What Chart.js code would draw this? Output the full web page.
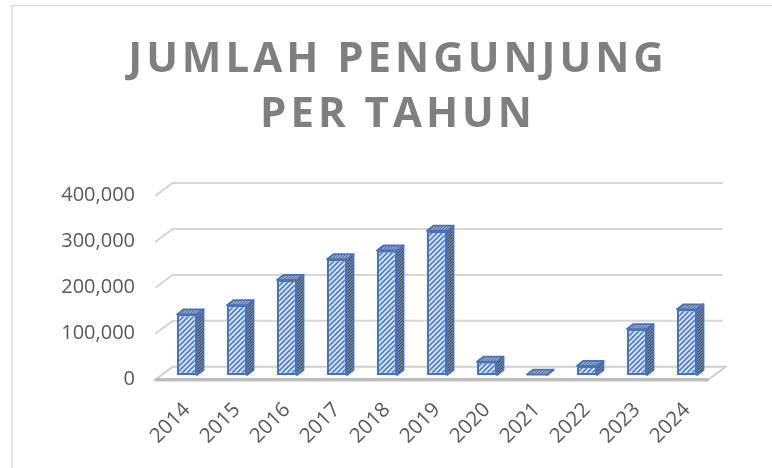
<!DOCTYPE html>
<html>
<head>
<meta charset="utf-8">
<script src="https://cdn.jsdelivr.net/npm/chart.js@4.4.1/dist/chart.umd.min.js"></script>
<style>
  html, body { margin: 0; padding: 0; background: #ffffff; }
  #wrap { width: 772px; height: 468px; position: relative; }
</style>
</head>
<body>
<div id="wrap"><canvas id="c" width="772" height="468"></canvas></div>
<script>
// ---- data ----
const years = ['2014', '2015', '2016', '2017', '2018', '2019', '2020', '2021', '2022', '2023', '2024'];
const visitors = [132000, 152000, 207000, 252000, 271000, 314000, 29000, 1000, 20000, 100000, 143000];
const yTickValues = [0, 100000, 200000, 300000, 400000];
const titleLines = ['JUMLAH PENGUNJUNG', 'PER TAHUN'];

// ---- styles ----
const FONT = "'Open Sans', 'Liberation Sans', sans-serif";
const BAR_BLUE = '#4472c4';
const GRID = '#d6d6d6';
// 3D offsets relative to the bar plane
const FRONT = { x: -6.7, y: 4.7 };
const BACK = { x: 10.6, y: -8.2 };
const BAR_DEPTH = { x: 6.5, y: -5 };
const TITLE_SHIFT = 42;

function makePattern(bg, fg, size, lw) {
  const c = document.createElement('canvas');
  c.width = size; c.height = size;
  const g = c.getContext('2d');
  g.fillStyle = bg; g.fillRect(0, 0, size, size);
  g.strokeStyle = fg; g.lineWidth = lw;
  g.beginPath();
  g.moveTo(-1, size + 1); g.lineTo(size + 1, -1);
  g.moveTo(-1, 1); g.lineTo(1, -1);
  g.moveTo(size - 1, size + 1); g.lineTo(size + 1, size - 1);
  g.stroke();
  return document.getElementById('c').getContext('2d').createPattern(c, 'repeat');
}
const frontPattern = makePattern('#dde7f7', '#4f7ccd', 5, 1.7);
const sidePattern = makePattern('#76808f', '#404a5c', 3, 1);
const topPattern = makePattern('#99a3b3', '#647086', 3, 1);

const frame = {
  id: 'frame',
  afterLayout(chart) {
    if (chart.titleBlock) {
      chart.titleBlock.left += TITLE_SHIFT;
      chart.titleBlock.right += TITLE_SHIFT;
    }
  },
  beforeDraw(chart) {
    const ctx = chart.ctx;
    ctx.save();
    ctx.strokeStyle = '#d9d9d9';
    ctx.lineWidth = 1.5;
    ctx.beginPath();
    ctx.moveTo(12, 468); ctx.lineTo(12, 5.5); ctx.lineTo(772, 5.5);
    ctx.stroke();
    ctx.restore();
    ctx.letterSpacing = '4px';
  },
  beforeDatasetsDraw(chart) {
    const ctx = chart.ctx;
    ctx.letterSpacing = '0px';
    const ys = chart.scales.y;
    const xs = chart.scales.x;
    const L = xs.left, R = xs.right;
    ctx.save();
    // back wall gridlines + left wall stubs
    ctx.strokeStyle = GRID;
    ctx.lineWidth = 2;
    ys.ticks.forEach(t => {
      if (t.value === 0) return;
      const y = ys.getPixelForValue(t.value);
      ctx.beginPath();
      ctx.moveTo(L + FRONT.x, y + FRONT.y);
      ctx.lineTo(L + BACK.x, y + BACK.y);
      ctx.lineTo(R + BACK.x, y + BACK.y);
      ctx.stroke();
    });
    // floor
    const b = ys.getPixelForValue(0);
    ctx.beginPath();
    ctx.moveTo(L + FRONT.x, b + FRONT.y);
    ctx.lineTo(R + FRONT.x + 3, b + FRONT.y);
    ctx.lineTo(R + BACK.x + 3, b + BACK.y);
    ctx.lineTo(L + BACK.x, b + BACK.y);
    ctx.closePath();
    ctx.fillStyle = '#ffffff';
    ctx.fill();
    ctx.strokeStyle = '#cfcfcf';
    ctx.lineWidth = 2;
    ctx.stroke();
    ctx.strokeStyle = '#bdbdbd';
    ctx.lineWidth = 3.5;
    ctx.beginPath();
    ctx.moveTo(L + FRONT.x, b + FRONT.y);
    ctx.lineTo(R + FRONT.x + 3, b + FRONT.y);
    ctx.stroke();
    // bar side and top faces
    const meta = chart.getDatasetMeta(0);
    ctx.lineWidth = 1.8;
    ctx.strokeStyle = BAR_BLUE;
    ctx.lineJoin = 'round';
    meta.data.forEach(bar => {
      const p = bar.getProps(['x', 'y', 'base', 'width'], true);
      const l = p.x - p.width / 2, r = p.x + p.width / 2;
      const top = Math.min(p.y, p.base), bot = Math.max(p.y, p.base);
      // side
      ctx.beginPath();
      ctx.moveTo(r, top);
      ctx.lineTo(r + BAR_DEPTH.x, top + BAR_DEPTH.y);
      ctx.lineTo(r + BAR_DEPTH.x, bot + BAR_DEPTH.y);
      ctx.lineTo(r, bot);
      ctx.closePath();
      ctx.fillStyle = sidePattern; ctx.fill(); ctx.stroke();
      // top
      ctx.beginPath();
      ctx.moveTo(l, top);
      ctx.lineTo(l + BAR_DEPTH.x, top + BAR_DEPTH.y);
      ctx.lineTo(r + BAR_DEPTH.x, top + BAR_DEPTH.y);
      ctx.lineTo(r, top);
      ctx.closePath();
      ctx.fillStyle = topPattern; ctx.fill(); ctx.stroke();
    });
    ctx.restore();
  }
};

new Chart(document.getElementById('c'), {
  type: 'bar',
  data: {
    labels: years,
    datasets: [{
      data: visitors,
      backgroundColor: frontPattern,
      borderColor: BAR_BLUE,
      borderWidth: 2.2,
      borderSkipped: false,
      categoryPercentage: 1,
      barPercentage: 0.4
    }]
  },
  options: {
    responsive: false,
    devicePixelRatio: 1,
    animation: false,
    layout: { padding: { left: 0, right: 60, top: 0, bottom: 0 } },
    plugins: {
      legend: { display: false },
      tooltip: { enabled: false },
      title: {
        display: true,
        text: titleLines,
        color: '#7f7f7f',
        font: { family: FONT, size: 42, weight: '700', lineHeight: 1.3 },
        padding: { top: 33, bottom: 49 }
      }
    },
    scales: {
      x: {
        grid: { display: false },
        border: { display: false },
        ticks: {
          z: 1,
          color: '#595959',
          font: { family: FONT, size: 20.5 },
          minRotation: 45, maxRotation: 45,
          autoSkip: false,
          padding: 15
        },
        afterFit(scale) { scale.height = 93; }
      },
      y: {
        min: 0, max: 400000,
        grid: { display: false },
        border: { display: false },
        afterBuildTicks(scale) { scale.ticks = yTickValues.map(v => ({ value: v })); },
        ticks: {
          z: 1,
          color: '#595959',
          font: { family: FONT, size: 20 },
          padding: 19,
          labelOffset: 4,
          callback: v => v.toLocaleString('en-US')
        },
        afterFit(scale) { scale.width = 162; }
      }
    }
  },
  plugins: [frame]
});
</script>
</body>
</html>
